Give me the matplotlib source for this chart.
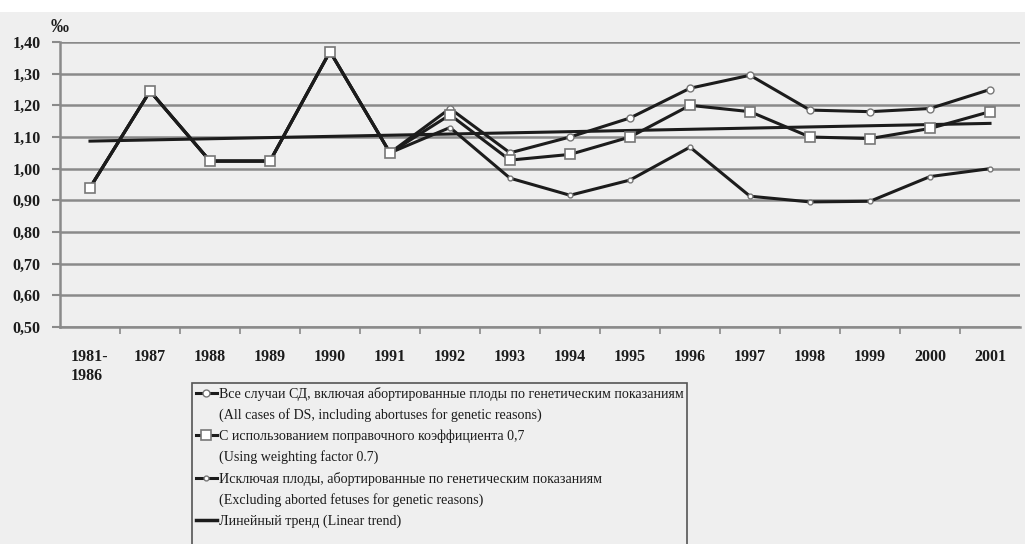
import matplotlib

matplotlib.use("Agg")
import matplotlib.pyplot as plt
from matplotlib.lines import Line2D
from matplotlib.patches import Rectangle

# categories (x axis)
YEARS = ["1981-\n1986", "1987", "1988", "1989", "1990", "1991", "1992", "1993",
         "1994", "1995", "1996", "1997", "1998", "1999", "2000", "2001"]

ALL_CASES = [0.94, 1.245, 1.024, 1.024, 1.37, 1.05, 1.19, 1.05,
             1.10, 1.16, 1.254, 1.295, 1.185, 1.18, 1.19, 1.25]
WEIGHTED = [0.94, 1.245, 1.024, 1.024, 1.37, 1.05, 1.17, 1.027,
            1.045, 1.10, 1.20, 1.18, 1.10, 1.095, 1.127, 1.18]
EXCLUDING = [0.94, 1.245, 1.024, 1.024, 1.37, 1.05, 1.13, 0.97,
             0.916, 0.964, 1.068, 0.913, 0.895, 0.897, 0.975, 1.0]
TREND_ENDS = [1.087, 1.143]   # linear trend at first and last category

Y_TICKS = [0.5, 0.6, 0.7, 0.8, 0.9, 1.0, 1.1, 1.2, 1.3, 1.4]

LABELS = [
    "Все случаи СД, включая абортированные плоды по генетическим показаниям",
    "(All cases of DS, including abortuses for genetic reasons)",
    "С использованием поправочного коэффициента 0,7",
    "(Using weighting factor 0.7)",
    "Исключая плоды, абортированные по генетическим показаниям",
    "(Excluding aborted fetuses for genetic reasons)",
    "Линейный тренд (Linear trend)",
]

BG = "#efefef"
INK = "#1c1c1c"
GRID = "#8a8a8a"
SERIF = ["Liberation Serif", "DejaVu Serif"]

plt.rcParams["font.family"] = SERIF

fig = plt.figure(figsize=(10.25, 5.44), dpi=100, facecolor=BG)
# white strip along the top of the scan
fig.patches.append(Rectangle((0, 1 - 12 / 544), 1, 12 / 544, transform=fig.transFigure,
                             facecolor="white", edgecolor="none", zorder=0))

ax = fig.add_axes([60 / 1025, 1 - 327 / 544, 960 / 1025, 285 / 544])
ax.set_facecolor(BG)

x = list(range(len(YEARS)))
ax.plot([x[0], x[-1]], TREND_ENDS, color=INK, lw=2.2, zorder=3)
l1, = ax.plot(x, ALL_CASES, color=INK, lw=2.2, marker="o", ms=5,
              mfc="white", mec="#777777", mew=1, zorder=4)
l3, = ax.plot(x, EXCLUDING, color=INK, lw=2.2, marker="o", ms=3.5,
              mfc="white", mec="#777777", mew=1, zorder=4)
l2, = ax.plot(x, WEIGHTED, color=INK, lw=2.2, marker="s", ms=7,
              mfc="white", mec="#777777", mew=1.2, zorder=5)

ax.set_xlim(-0.5, len(YEARS) - 0.5)
ax.set_ylim(0.5, 1.4)
ax.set_yticks(Y_TICKS, [f"{v:.2f}".replace(".", ",") for v in Y_TICKS])
ax.set_xticks(x, YEARS)
ax.set_xticks([i - 0.5 for i in range(1, len(YEARS))], minor=True)
ax.tick_params(axis="x", which="major", length=0, pad=16)
ax.tick_params(axis="x", which="minor", length=5, width=1.2, color=GRID, direction="out")
ax.tick_params(axis="y", length=6, width=1.5, color=GRID, pad=8)
for lab in ax.get_xticklabels() + ax.get_yticklabels():
    lab.set_fontweight("bold")
    lab.set_fontsize(11.5)
    lab.set_color(INK)
for lab in ax.get_xticklabels():
    lab.set_verticalalignment("top")
    lab.set_multialignment("left")

ax.grid(axis="y", color=GRID, lw=1.8)
ax.set_axisbelow(True)
for side in ("top", "right"):
    ax.spines[side].set_visible(False)
ax.spines["left"].set_color(GRID)
ax.spines["left"].set_linewidth(1.8)
ax.spines["bottom"].set_color(GRID)
ax.spines["bottom"].set_linewidth(1.8)

fig.text(60 / 1025, 1 - 27 / 544, "‰", fontsize=13, fontweight="bold",
         color=INK, ha="center", va="center")

# legend: English lines get empty handles; a trailing empty row lets the box
# run off the bottom edge like in the scan
blank = Line2D([], [], color="none")
trend_h = Line2D([], [], color=INK, lw=2.5)
handles = [l1, blank, l2, blank, l3, blank, trend_h, blank]
leg = fig.legend(handles, LABELS + [" "], loc="upper left",
                 bbox_to_anchor=(192 / 1025, 1 - 383 / 544), borderaxespad=0,
                 fontsize=10.1, handlelength=1.5, handletextpad=0.15,
                 labelspacing=0.53, borderpad=0.25, frameon=True, fancybox=False,
                 facecolor=BG, edgecolor="#555555", framealpha=1)
leg.get_frame().set_linewidth(1.2)
for t in leg.get_texts():
    t.set_color(INK)

fig.savefig("out.png", dpi=100, facecolor=BG)
